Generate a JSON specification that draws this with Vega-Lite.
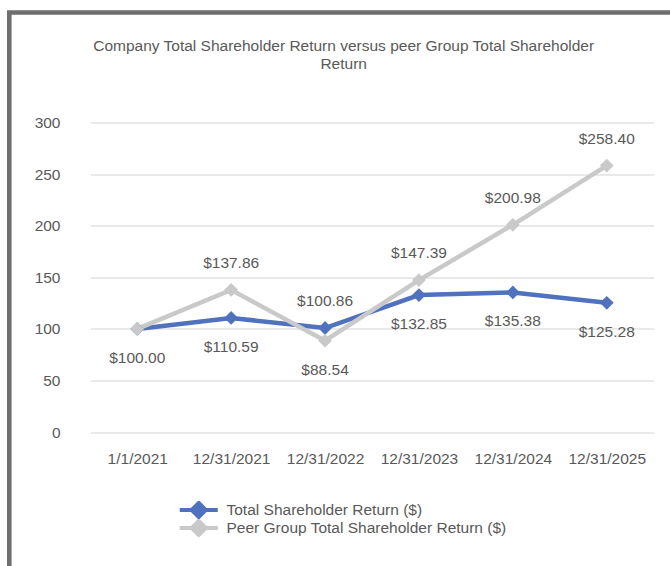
{
  "$schema": "https://vega.github.io/schema/vega-lite/v6.json",
  "autosize": {"type": "none"},
  "width": 660.7,
  "height": 553.5,
  "padding": {"left": 9.3, "top": 12.5, "right": 0, "bottom": 0},
  "background": "white",
  "config": {
    "view": {"stroke": "#6f6f6f", "strokeWidth": 4.6, "strokeDash": [661, 1214, 560]},
    "font": "Liberation Sans"
  },
  "title": {
    "text": ["Company Total Shareholder Return versus peer Group Total Shareholder", "Return"],
    "anchor": "middle",
    "frame": "group",
    "offset": -60,
    "baseline": "top",
    "fontSize": 15.5,
    "fontWeight": "normal",
    "font": "Liberation Sans",
    "color": "#595959",
    "lineHeight": 18.5,
    "dx": 4
  },
  "data": {
    "values": [
      {"date": "1/1/2021", "series": "Total Shareholder Return ($)", "value": 100.00},
      {"date": "12/31/2021", "series": "Total Shareholder Return ($)", "value": 110.59},
      {"date": "12/31/2022", "series": "Total Shareholder Return ($)", "value": 100.86},
      {"date": "12/31/2023", "series": "Total Shareholder Return ($)", "value": 132.85},
      {"date": "12/31/2024", "series": "Total Shareholder Return ($)", "value": 135.38},
      {"date": "12/31/2025", "series": "Total Shareholder Return ($)", "value": 125.28},
      {"date": "1/1/2021", "series": "Peer Group Total Shareholder Return ($)", "value": 100.00},
      {"date": "12/31/2021", "series": "Peer Group Total Shareholder Return ($)", "value": 137.86},
      {"date": "12/31/2022", "series": "Peer Group Total Shareholder Return ($)", "value": 88.54},
      {"date": "12/31/2023", "series": "Peer Group Total Shareholder Return ($)", "value": 147.39},
      {"date": "12/31/2024", "series": "Peer Group Total Shareholder Return ($)", "value": 200.98},
      {"date": "12/31/2025", "series": "Peer Group Total Shareholder Return ($)", "value": 258.40}
    ]
  },
  "encoding": {
    "x": {
      "field": "date",
      "type": "ordinal",
      "sort": null,
      "scale": {"type": "point", "range": [81, 644.4], "padding": 0.5},
      "axis": {
        "orient": "bottom",
        "offset": -115,
        "ticks": false,
        "domain": false,
        "grid": false,
        "labelPadding": 0,
        "labelAngle": 0,
        "labelFontSize": 15.5,
        "labelFont": "Liberation Sans",
        "labelColor": "#595959",
        "title": null
      }
    },
    "y": {
      "field": "value",
      "type": "quantitative",
      "scale": {"domain": [0, 300], "range": [419.5, 110.2], "nice": false, "zero": true},
      "axis": {
        "orient": "left",
        "offset": -50.7,
        "ticks": false,
        "domain": false,
        "labelPadding": 0,
        "values": [0, 50, 100, 150, 200, 250, 300],
        "grid": true,
        "gridColor": "#E2E2E2",
        "gridWidth": 1.3,
        "labelFontSize": 15.5,
        "labelFont": "Liberation Sans",
        "labelColor": "#595959",
        "title": null
      }
    }
  },
  "layer": [
    {
      "mark": {"type": "line", "strokeWidth": 4.5},
      "encoding": {
        "color": {
          "field": "series",
          "type": "nominal",
          "sort": null,
          "scale": {
            "domain": ["Total Shareholder Return ($)", "Peer Group Total Shareholder Return ($)"],
            "range": ["#4F71BE", "#C9C9C9"]
          },
          "legend": {
            "title": null,
            "orient": "none",
            "legendX": 168.7,
            "legendY": 488.5,
            "direction": "vertical",
            "symbolType": "M-1.5,0L8,0M3.25,-1.75L5,0L3.25,1.75L1.5,0Z",
            "symbolSize": 64,
            "symbolStrokeWidth": 4,
            "symbolOpacity": 1,
            "labelFontSize": 15.5,
            "labelFont": "Liberation Sans",
            "labelColor": "#595959",
            "labelOffset": 33,
            "labelLimit": 400,
            "clipHeight": 18,
            "rowPadding": 0,
            "padding": 0,
            "encode": {
              "symbols": {
                "update": {
                  "fill": {"signal": "scale('color', datum.value)"},
                  "stroke": {"signal": "scale('color', datum.value)"}
                }
              }
            }
          }
        }
      }
    },
    {
      "mark": {"type": "point", "shape": "diamond", "filled": true, "size": 190, "opacity": 1},
      "encoding": {
        "color": {"field": "series", "type": "nominal", "sort": null}
      }
    },
    {
      "transform": [
        {"filter": "(datum.series == 'Peer Group Total Shareholder Return ($)' && datum.date != '1/1/2021' && datum.date != '12/31/2022') || (datum.series == 'Total Shareholder Return ($)' && datum.date == '12/31/2022')"}
      ],
      "mark": {"type": "text", "dy": -27, "fontSize": 15.5, "font": "Liberation Sans", "fill": "#595959"},
      "encoding": {
        "text": {"field": "value", "type": "quantitative", "format": "$.2f"}
      }
    },
    {
      "transform": [
        {"filter": "(datum.series == 'Total Shareholder Return ($)' && datum.date != '12/31/2022') || (datum.series == 'Peer Group Total Shareholder Return ($)' && datum.date == '12/31/2022')"}
      ],
      "mark": {"type": "text", "dy": 29, "fontSize": 15.5, "font": "Liberation Sans", "fill": "#595959"},
      "encoding": {
        "text": {"field": "value", "type": "quantitative", "format": "$.2f"}
      }
    }
  ]
}
